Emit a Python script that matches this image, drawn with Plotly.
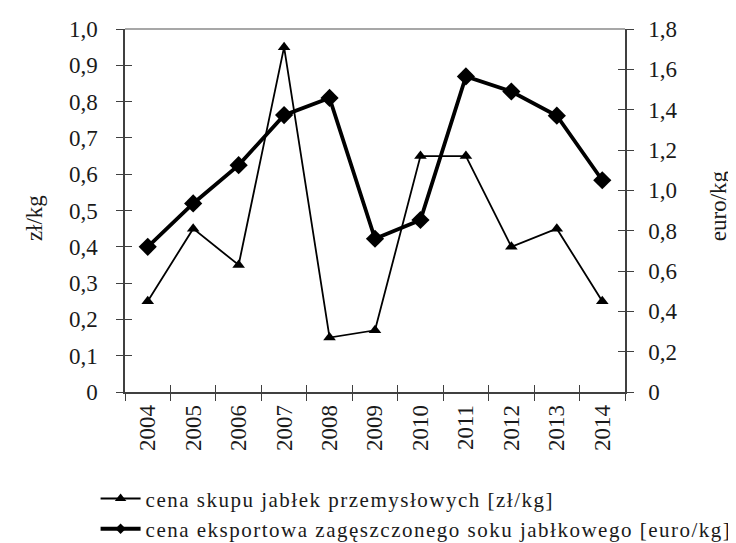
import plotly.graph_objects as go

years = ["2004", "2005", "2006", "2007", "2008", "2009", "2010", "2011", "2012", "2013", "2014"]
cena_skupu = [0.25, 0.45, 0.35, 0.95, 0.15, 0.17, 0.65, 0.65, 0.40, 0.45, 0.25]
cena_eksport = [0.72, 0.935, 1.125, 1.373, 1.458, 0.76, 0.853, 1.565, 1.49, 1.37, 1.05]

left_vals = [0, 0.1, 0.2, 0.3, 0.4, 0.5, 0.6, 0.7, 0.8, 0.9, 1.0]
left_text = ["0", "0,1", "0,2", "0,3", "0,4", "0,5", "0,6", "0,7", "0,8", "0,9", "1,0"]
right_vals = [0, 0.2, 0.4, 0.6, 0.8, 1.0, 1.2, 1.4, 1.6, 1.8]
right_text = ["0", "0,2", "0,4", "0,6", "0,8", "1,0", "1,2", "1,4", "1,6", "1,8"]

name1 = "cena skupu jabłek przemysłowych [zł/kg]"
name2 = "cena eksportowa zagęszczonego soku jabłkowego [euro/kg]"
left_title = "zł/kg"
right_title = "euro/kg"

FONT = "Liberation Serif, Times New Roman, serif"
AX = "#404040"
TXT = "#1a1a1a"
SPACED = '<span style="letter-spacing:1.5px">{}</span>'

fig = go.Figure()
fig.add_trace(go.Scatter(
    x=years, y=cena_skupu, name=name1, mode="lines+markers", showlegend=False,
    line=dict(color="black", width=1.8),
    marker=dict(symbol="triangle-up", size=11, color="black"),
    xaxis="x", yaxis="y"))
fig.add_trace(go.Scatter(
    x=years, y=cena_eksport, name=name2, mode="lines+markers", showlegend=False,
    line=dict(color="black", width=3.8),
    marker=dict(symbol="diamond", size=14, color="black"),
    xaxis="x", yaxis="y2"))
# legend entries (smaller symbols, as in the reference legend)
fig.add_trace(go.Scatter(
    x=[years[0]], y=[None], name=SPACED.format(name1), mode="lines+markers",
    line=dict(color="black", width=2),
    marker=dict(symbol="triangle-up", size=10, color="black"),
    xaxis="x", yaxis="y"))
fig.add_trace(go.Scatter(
    x=[years[0]], y=[None], name=SPACED.format(name2), mode="lines+markers",
    line=dict(color="black", width=4),
    marker=dict(symbol="diamond", size=8, color="black"),
    xaxis="x", yaxis="y2"))
# invisible helpers so that the inside half of the crossing ticks is drawn
fig.add_trace(go.Scatter(x=years, y=cena_skupu, mode="none", showlegend=False,
                         hoverinfo="skip", xaxis="x2", yaxis="y3"))
fig.add_trace(go.Scatter(x=years, y=cena_eksport, mode="none", showlegend=False,
                         hoverinfo="skip", xaxis="x2", yaxis="y4"))

tickfont = dict(family=FONT, size=23, color=TXT)
titlefont = dict(family=FONT, size=23, color=TXT)

fig.update_layout(
    width=736, height=543,
    margin=dict(l=117, r=119, t=21, b=159, autoexpand=False),
    paper_bgcolor="white", plot_bgcolor="white",
    font=dict(family=FONT, size=20, color=TXT),
    showlegend=True,
    legend=dict(
        xref="container", yref="container",
        x=0.119, y=0.134, xanchor="left", yanchor="top",
        font=dict(family=FONT, size=21, color=TXT),
        bgcolor="rgba(0,0,0,0)", tracegroupgap=0, itemwidth=40,
    ),
    xaxis=dict(
        type="category", categoryorder="array", categoryarray=years,
        range=[-0.5, 10.5], tickson="boundaries", ticks="outside", ticklen=7,
        tickcolor=AX, tickwidth=1.3, showline=True, linecolor=AX, linewidth=1.5,
        tickangle=-90, tickfont=tickfont, showgrid=False, zeroline=False,
        ticklabelstandoff=2, automargin=False,
    ),
    xaxis2=dict(
        type="category", categoryorder="array", categoryarray=years,
        range=[-0.5, 10.5], tickson="boundaries", ticks="inside", ticklen=7,
        tickcolor=AX, tickwidth=1.3, showline=False, showticklabels=False,
        showgrid=False, zeroline=False, overlaying="x", anchor="y3", automargin=False,
    ),
    yaxis=dict(
        range=[0, 1.0], tickvals=left_vals, ticktext=left_text,
        ticks="outside", ticklen=7, tickcolor=AX, tickwidth=1.3,
        showline=True, linecolor=AX, linewidth=1.5, showgrid=False, zeroline=False,
        tickfont=tickfont, ticklabelstandoff=14, automargin=False,
    ),
    yaxis2=dict(
        range=[0, 1.8], tickvals=right_vals, ticktext=right_text,
        overlaying="y", side="right", anchor="x",
        ticks="outside", ticklen=7, tickcolor=AX, tickwidth=1.3,
        showline=True, linecolor=AX, linewidth=1.5, showgrid=False, zeroline=False,
        tickfont=tickfont, ticklabelstandoff=10, automargin=False,
    ),
    yaxis3=dict(
        range=[0, 1.0], tickvals=left_vals, overlaying="y", side="left", anchor="x2",
        ticks="inside", ticklen=7, tickcolor=AX, tickwidth=1.3,
        showline=False, showticklabels=False, showgrid=False, zeroline=False, automargin=False,
    ),
    yaxis4=dict(
        range=[0, 1.8], tickvals=right_vals, overlaying="y", side="right", anchor="x2",
        ticks="inside", ticklen=7, tickcolor=AX, tickwidth=1.3,
        showline=False, showticklabels=False, showgrid=False, zeroline=False, automargin=False,
    ),
    annotations=[
        dict(text=left_title, xref="paper", yref="paper", x=-0.182, y=0.479,
             xanchor="center", yanchor="middle", textangle=-90, showarrow=False,
             font=titlefont),
        dict(text=right_title, xref="paper", yref="paper", x=1.186, y=0.512,
             xanchor="center", yanchor="middle", textangle=-90, showarrow=False,
             font=titlefont),
    ],
    shapes=[dict(type="line", xref="paper", yref="paper", x0=0, x1=1, y0=1, y1=1,
                 line=dict(color="#8a8a8a", width=1.5))],
)

fig.write_html("out.html")
